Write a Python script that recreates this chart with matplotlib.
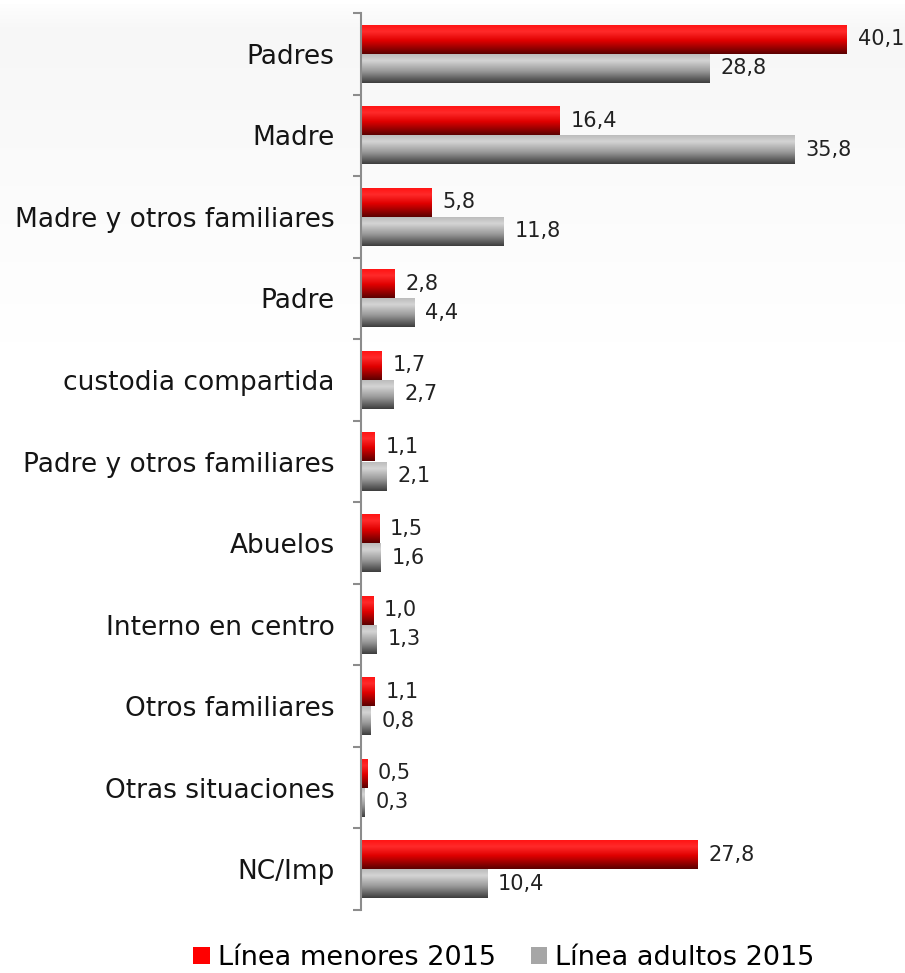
import numpy as np
import matplotlib
matplotlib.use("Agg")
import matplotlib.pyplot as plt
from matplotlib.colors import LinearSegmentedColormap
from matplotlib.patches import Patch

categories = ["Padres", "Madre", "Madre y otros familiares", "Padre",
              "custodia compartida", "Padre y otros familiares", "Abuelos",
              "Interno en centro", "Otros familiares", "Otras situaciones", "NC/Imp"]
menores = [40.1, 16.4, 5.8, 2.8, 1.7, 1.1, 1.5, 1.0, 1.1, 0.5, 27.8]
adultos = [28.8, 35.8, 11.8, 4.4, 2.7, 2.1, 1.6, 1.3, 0.8, 0.3, 10.4]
series_names = ["Línea menores 2015", "Línea adultos 2015"]

plt.rcParams['font.family'] = ['DejaVu Sans']

fig = plt.figure(figsize=(9.05, 9.73), dpi=100)

# faint background gradient near the top
bg = fig.add_axes([0, 0, 1, 1], zorder=-5)
bg_cmap = LinearSegmentedColormap.from_list("bg", [(0, "#ffffff"), (0.03, "#f7f7f7"), (0.35, "#ffffff"), (1, "#ffffff")])
bg.imshow(np.linspace(0, 1, 256).reshape(-1, 1), cmap=bg_cmap, aspect='auto', extent=[0, 1, 1, 0])
bg.axis('off')

ax = fig.add_axes([361/905, 1 - 910/973, (905-361)/905, (910-13)/973])

n = len(categories)
y = np.arange(n)
h = 0.356

red_cmap = LinearSegmentedColormap.from_list("r", [(0, "#ff1010"), (0.25, "#ff2a2a"), (0.55, "#e00000"), (1, "#5a0000")])
gray_cmap = LinearSegmentedColormap.from_list("g", [(0, "#b8b8b8"), (0.25, "#d4d4d4"), (0.6, "#9a9a9a"), (1, "#3c3c3c")])

grad = np.linspace(0, 1, 256).reshape(-1, 1)

def gradient_bars(bars, cmap):
    for b in bars:
        x0, y0 = b.get_x(), b.get_y()
        w, hh = b.get_width(), b.get_height()
        im = ax.imshow(grad, cmap=cmap, aspect='auto',
                       extent=[x0, x0 + w, y0 + hh, y0], zorder=2, interpolation='bilinear')
        im.set_clip_path(b)
        b.set_facecolor('none')

b1 = ax.barh(y - h/2, menores, height=h, color="#ff0000", edgecolor='none', zorder=1)
b2 = ax.barh(y + h/2, adultos, height=h, color="#a6a6a6", edgecolor='none', zorder=1)
gradient_bars(b1, red_cmap)
gradient_bars(b2, gray_cmap)

for yi, v in zip(y, menores):
    ax.annotate(f"{v:.1f}".replace('.', ','), (v, yi - h/2), xytext=(11, 0),
                textcoords='offset pixels', va='center', ha='left', fontsize=15, color='#222222')
for yi, v in zip(y, adultos):
    ax.annotate(f"{v:.1f}".replace('.', ','), (v, yi + h/2), xytext=(11, 0),
                textcoords='offset pixels', va='center', ha='left', fontsize=15, color='#222222')

ax.set_xlim(0, 44.9)
ax.set_ylim(n - 0.5, -0.5)
ax.set_yticks(y)
ax.set_yticklabels(categories, fontsize=19, color='#151515')
ax.set_yticks(np.arange(-0.5, n, 1), minor=True)
ax.tick_params(axis='y', which='major', length=0, pad=19)
ax.tick_params(axis='y', which='minor', length=6, color='#8c8c8c', width=1.5)
ax.set_xticks([])
for s in ['top', 'right', 'bottom']:
    ax.spines[s].set_visible(False)
ax.spines['left'].set_color('#8c8c8c')
ax.spines['left'].set_linewidth(1.5)
ax.patch.set_alpha(0)

handles = [Patch(facecolor="#ff0000"), Patch(facecolor="#a6a6a6")]
fig.legend(handles, series_names, loc='center', bbox_to_anchor=(0.557, 1 - 958/973),
           ncol=2, frameon=False, fontsize=19.5, handlelength=0.6, handleheight=0.6,
           handletextpad=0.3, columnspacing=1.3)

fig.savefig("out.png", dpi=100)
